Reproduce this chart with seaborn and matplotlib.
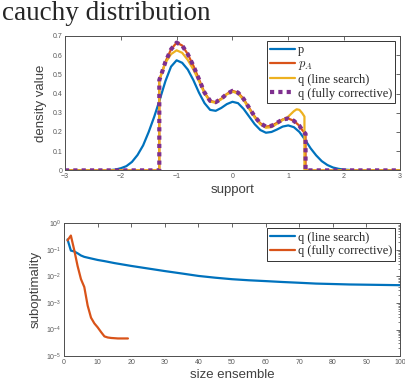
import numpy as np
import pandas as pd
import matplotlib
matplotlib.use("Agg")
import matplotlib.pyplot as plt
import seaborn as sns

sns.set_style("white")
plt.rcParams['font.family'] = ['Liberation Sans', 'DejaVu Sans']
plt.rcParams['mathtext.fontset'] = 'cm'

# colours (MATLAB defaults)
BLUE, ORANGE, YELLOW, PURPLE = '#0072BD', '#D95319', '#EDB120', '#7E2F8E'

# ---- top panel data: densities ----
x_p = [-3.0, -2.9, -2.8, -2.7, -2.6, -2.5, -2.4, -2.3, -2.2, -2.1,
       -2.0, -1.9, -1.8, -1.7, -1.6, -1.5, -1.4, -1.3, -1.2, -1.1,
       -1.0, -0.9, -0.8, -0.7, -0.6, -0.5, -0.4, -0.3, -0.2, -0.1,
       0.0, 0.1, 0.2, 0.3, 0.4, 0.5, 0.6, 0.7, 0.8, 0.9,
       1.0, 1.1, 1.2, 1.3, 1.4, 1.5, 1.6, 1.7, 1.8, 1.9,
       2.0, 2.1, 2.2, 2.3, 2.4, 2.5, 2.6, 2.7, 2.8, 2.9, 3.0]
p_vals = [0, 0, 0, 0, 0, 0, 0, 0, 0.001, 0.004,
          0.011, 0.022, 0.044, 0.08, 0.13, 0.2, 0.28, 0.37, 0.465, 0.54,
          0.573, 0.56, 0.525, 0.47, 0.405, 0.35, 0.315, 0.31, 0.325, 0.345,
          0.357, 0.35, 0.32, 0.28, 0.24, 0.21, 0.196, 0.2, 0.213, 0.228,
          0.234, 0.225, 0.2, 0.16, 0.115, 0.078, 0.048, 0.028, 0.015, 0.008,
          0.004, 0.002, 0.001, 0, 0, 0, 0, 0, 0, 0, 0]

x_trunc = [-3.0, -1.31, -1.31, -1.25, -1.2, -1.1, -1.0, -0.9, -0.8, -0.7,
           -0.6, -0.5, -0.4, -0.3, -0.2, -0.1, 0.0, 0.1, 0.2, 0.3,
           0.4, 0.5, 0.6, 0.7, 0.8, 0.9, 1.0, 1.1, 1.2, 1.25,
           1.31, 1.31, 3.0]
pA_vals = [0, 0, 0.47, 0.52, 0.565, 0.63, 0.665, 0.65, 0.605, 0.545,
           0.475, 0.405, 0.362, 0.355, 0.373, 0.398, 0.414, 0.405, 0.372, 0.325,
           0.28, 0.245, 0.228, 0.232, 0.248, 0.265, 0.27, 0.258, 0.232, 0.21,
           0.19, 0, 0]
# fully corrective q lies on top of p_A
qfc_vals = [0, 0, 0.47, 0.52, 0.565, 0.63, 0.665, 0.65, 0.605, 0.545,
            0.475, 0.405, 0.362, 0.355, 0.373, 0.398, 0.414, 0.405, 0.372, 0.325,
            0.28, 0.245, 0.228, 0.232, 0.248, 0.265, 0.27, 0.258, 0.232, 0.21,
            0.19, 0, 0]

x_ls = [-3.0, -1.31, -1.31, -1.25, -1.2, -1.1, -1.0, -0.9, -0.8, -0.7,
        -0.6, -0.5, -0.4, -0.3, -0.2, -0.1, 0.0, 0.1, 0.2, 0.3,
        0.4, 0.5, 0.6, 0.7, 0.8, 0.9, 1.0, 1.1, 1.15, 1.2,
        1.25, 1.29, 1.29, 3.0]
qls_vals = [0, 0, 0.47, 0.52, 0.56, 0.605, 0.625, 0.612, 0.575, 0.525,
            0.465, 0.40, 0.358, 0.352, 0.37, 0.396, 0.41, 0.40, 0.366, 0.32,
            0.275, 0.24, 0.222, 0.225, 0.243, 0.262, 0.28, 0.308, 0.318, 0.315,
            0.298, 0.28, 0, 0]

# ---- bottom panel data: suboptimality vs ensemble size ----
n_ls = [1, 2, 3, 4, 5, 6, 8, 10, 12, 15, 20, 25, 30, 35, 40, 45, 50,
        55, 60, 65, 70, 75, 80, 85, 90, 95, 100]
sub_ls = [0.25, 0.095, 0.088, 0.075, 0.062, 0.055, 0.048, 0.042, 0.038, 0.032,
          0.025, 0.02, 0.016, 0.013, 0.0105, 0.009, 0.0079, 0.0072, 0.0067,
          0.0062, 0.0058, 0.0054, 0.0052, 0.005, 0.0049, 0.0048, 0.0047]

n_fc = list(range(1, 20))
sub_fc = [0.23, 0.35, 0.1, 0.025, 0.008, 0.004, 0.0008, 0.00028, 0.00017,
          0.00012, 0.00008, 0.000055, 0.00005, 0.000048, 0.000047, 0.000046,
          0.000046, 0.000046, 0.000046]

fig = plt.figure(figsize=(4.06, 3.82), dpi=100)
ax1 = fig.add_axes([0.160, 0.554, 0.825, 0.352])
ax2 = fig.add_axes([0.158, 0.068, 0.827, 0.347])

fig.text(0.004, 0.948, 'cauchy distribution', family=['Liberation Serif'],
         fontsize=19.5, va='baseline', ha='left')

lw = 1.6
sns.lineplot(x=x_p, y=p_vals, color=BLUE, lw=lw, label='p', ax=ax1,
             estimator=None, sort=False)
sns.lineplot(x=x_trunc, y=pA_vals, color=ORANGE, lw=lw, label='$p_A$', ax=ax1,
             estimator=None, sort=False)
sns.lineplot(x=x_ls, y=qls_vals, color=YELLOW, lw=lw, label='q (line search)',
             ax=ax1, estimator=None, sort=False)
sns.lineplot(x=x_trunc, y=qfc_vals, color=PURPLE, lw=3, label='q (fully corrective)',
             ax=ax1, estimator=None, sort=False, linestyle=(0, (1, 1)),
             dash_capstyle='butt')

sns.lineplot(x=n_ls, y=sub_ls, color=BLUE, lw=lw, label='q (line search)', ax=ax2,
             estimator=None, sort=False)
sns.lineplot(x=n_fc, y=sub_fc, color=ORANGE, lw=lw, label='q (fully corrective)',
             ax=ax2, estimator=None, sort=False)

ax1.set_xlim(-3, 3)
ax1.set_ylim(0, 0.7)
ax1.set_xticks([-3, -2, -1, 0, 1, 2, 3])
ax1.set_yticks([0, 0.1, 0.2, 0.3, 0.4, 0.5, 0.6, 0.7])
ax1.set_yticklabels(['0', '0.1', '0.2', '0.3', '0.4', '0.5', '0.6', '0.7'])
ax1.set_xlabel('support', fontsize=9.5, color='0.25', labelpad=3)
ax1.set_ylabel('density value', fontsize=9.5, color='0.25', labelpad=4)

ax2.set_yscale('log')
ax2.set_xlim(0, 100)
ax2.set_ylim(1e-5, 1)
ax2.set_xticks(range(0, 101, 10))
ax2.set_xlabel('size ensemble', fontsize=9.5, color='0.25', labelpad=2)
ax2.set_ylabel('suboptimality', fontsize=9.5, color='0.25', labelpad=3)

for ax in (ax1, ax2):
    ax.tick_params(direction='in', top=True, right=True, labelsize=5,
                   labelcolor='0.35', color='0.3', length=3, width=0.6, pad=2)
    ax.tick_params(which='minor', direction='in', right=True, length=1.5,
                   width=0.5, color='0.3')
    for s in ax.spines.values():
        s.set_color('0.3')
        s.set_linewidth(0.7)

leg_kw = dict(loc='upper right', prop={'family': 'Liberation Serif', 'size': 9},
              fancybox=False, edgecolor='0.2', framealpha=1, borderpad=0.25,
              handlelength=2.0, handletextpad=0.2, labelspacing=0.15,
              borderaxespad=0.4)
leg1 = ax1.legend(**leg_kw)
leg1.get_frame().set_linewidth(0.7)
leg2 = ax2.legend(**leg_kw)
leg2.get_frame().set_linewidth(0.7)

fig.savefig('out.png', dpi=100)
